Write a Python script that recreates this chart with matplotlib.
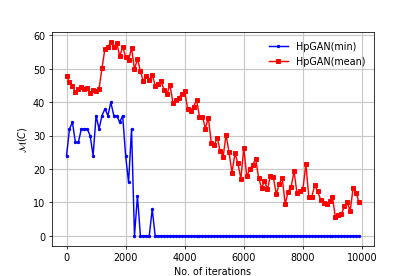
import numpy as np
import matplotlib
matplotlib.use("Agg")
import matplotlib.pyplot as plt

iterations = np.arange(0, 10000, 100)

hpgan_min = [24, 32, 34, 28, 28, 32, 32, 32, 30, 24,
             36, 32, 36, 38, 36, 40, 36, 36, 34, 36,
             24, 16, 32, 0, 12, 0, 0, 0, 0, 8] + [0] * 70

hpgan_mean = [48, 46, 45, 43, 44, 44.5, 44, 44.3, 42.8, 43.7,
              43.5, 44, 50.2, 56, 56.5, 58, 56.4, 57.8, 53.8, 56.6,
              53.6, 52.7, 56.2, 49.8, 53, 49.3, 46.3, 47.8, 46.6, 48.3,
              45, 45.5, 46.3, 43.7, 42.4, 45.3, 39.9, 40.6, 41.3, 42.6,
              43.3, 37.9, 37.5, 38.7, 40.7, 35.7, 35.7, 32.1, 35.4, 27.8,
              27.1, 29.4, 25.4, 23.7, 30.3, 25, 18.9, 24.7, 21.7, 17.1,
              26.3, 17.8, 19.9, 21.2, 23.1, 17.4, 14.3, 16.4, 14, 17.9,
              17.5, 12.4, 15.6, 17.4, 9.5, 13.2, 14.7, 19.3, 12.7, 13.3,
              14, 21.5, 11.6, 11.7, 15.1, 13.3, 10.8, 9.7, 9.6, 10.3,
              11.5, 5.6, 6.2, 6.4, 8.8, 10, 7.5, 14.4, 12.9, 10]

fig, ax = plt.subplots(figsize=(6, 4), dpi=69.2)

ax.plot(iterations, hpgan_min, "b.-", markersize=5, label="HpGAN(min)")
ax.plot(iterations, hpgan_mean, "rs-", markersize=3.5, label="HpGAN(mean)")

ax.grid(True, color="#c8c8c8", linewidth=1.2)
ax.set_xlabel("No. of iterations")
ax.set_ylabel(r"$\mathcal{M}(C)$")
ax.legend(loc="upper right", frameon=False)

fig.savefig("out.png", dpi=69.2)
